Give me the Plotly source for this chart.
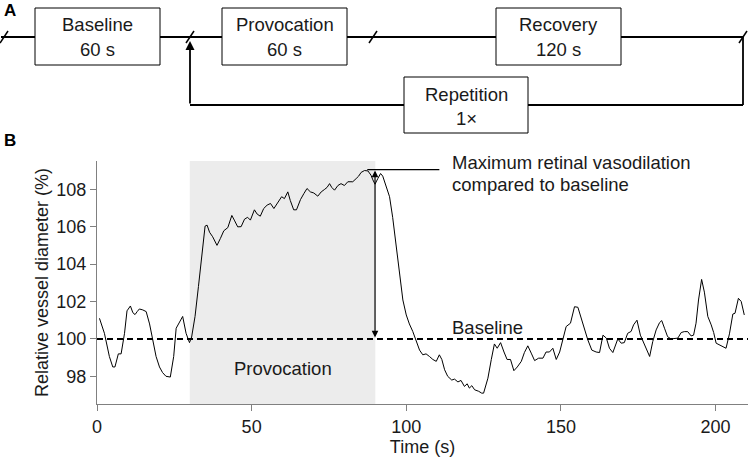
import plotly.graph_objects as go

# ---------------- data ----------------
time_s = [0.8, 2.4, 4.0, 5.1, 5.8, 6.9, 7.8, 8.9, 9.7, 10.8, 11.6, 12.3, 13.0, 13.7, 14.8, 15.9,
          17.0, 18.0, 19.1, 20.2, 21.2, 22.3, 23.7, 24.8, 25.6, 26.7, 27.7, 28.8, 29.9, 30.6,
          31.7, 32.8, 33.9, 34.95, 35.6, 36.4, 37.4, 38.8, 39.9, 41.0, 42.3, 43.6, 44.4, 45.5,
          46.6, 47.7, 48.7, 49.6, 50.9, 51.8, 52.8, 53.9, 55.0, 56.1, 57.2, 58.5, 59.7, 60.6,
          61.7, 62.5, 63.6, 64.5, 65.8, 66.9, 67.9, 69.0, 70.1, 71.4, 72.5, 73.5, 74.4, 75.2,
          75.9, 76.8, 77.9, 78.9, 80.0, 81.1, 82.7, 83.8, 84.6, 85.4, 86.5, 87.6, 88.6, 89.2,
          89.9, 90.8, 91.7, 92.4, 93.5, 94.6, 95.6, 96.7, 97.8, 98.9, 100.0, 101.0, 102.1,
          103.2, 104.3, 105.35, 106.4, 107.5, 108.6, 109.7, 110.7, 111.5, 112.4, 113.4, 114.7,
          115.6, 116.7, 117.7, 118.8, 119.7, 120.4, 121.2, 122.1, 123.4, 124.4, 125.0, 126.4,
          127.5, 128.5, 129.4, 130.5, 131.6, 132.6, 133.7, 134.8, 135.9, 137.2, 138.2, 139.3,
          140.4, 141.5, 142.8, 144.2, 145.2, 146.3, 147.4, 148.5, 149.6, 150.6, 151.7, 153.1,
          154.4, 155.5, 156.6, 157.6, 158.7, 160.0, 161.4, 162.5, 163.6, 164.7, 165.7, 166.8,
          167.6, 168.4, 169.5, 170.5, 171.6, 172.7, 173.5, 174.6, 175.7, 176.8, 177.9, 178.7,
          179.7, 180.8, 181.9, 182.6, 183.5, 184.5, 185.6, 186.7, 187.8, 188.9, 189.9, 191.0,
          192.1, 192.9, 193.7, 194.5, 195.5, 196.4, 197.5, 198.6, 199.4, 200.2, 201.3, 202.3,
          203.4, 204.5, 205.6, 206.3, 207.4, 208.3, 209.3]
diameter_pct = [101.1, 100.3, 99.06, 98.5, 98.5, 99.2, 99.2, 100.3, 101.5, 101.76, 101.4, 101.3,
                101.46, 101.6, 101.55, 101.46, 100.8, 100.04, 99.06, 98.5, 98.2, 98.0, 97.96,
                99.06, 100.57, 100.9, 101.2, 100.3, 99.8, 100.1, 101.2, 102.8, 104.4, 106.03,
                106.08, 105.7, 105.46, 105.0, 105.37, 105.78, 105.95, 106.6, 106.35, 105.99,
                106.0, 106.4, 106.5, 106.35, 106.9, 106.67, 106.56, 106.97, 107.15, 107.24,
                106.97, 107.3, 107.6, 107.5, 107.86, 107.4, 106.9, 106.9, 107.45, 107.77, 108.04,
                107.86, 107.8, 107.63, 107.86, 107.98, 108.1, 108.3, 108.1, 107.95, 108.2, 108.3,
                108.2, 108.4, 108.4, 108.57, 108.7, 108.9, 109.0, 108.98, 108.75, 108.5, 108.27,
                108.57, 108.84, 108.7, 108.2, 107.6, 106.5, 105.1, 103.7, 102.08, 101.28, 100.8,
                100.4, 99.95, 99.4, 99.15, 99.2, 99.06, 98.9, 98.8, 99.15, 98.9, 98.35, 98.0, 97.8,
                97.85, 97.7, 97.78, 97.46, 97.6, 97.37, 97.5, 97.28, 97.2, 97.1, 97.1, 97.9,
                98.9, 99.73, 99.5, 99.8, 99.3, 98.9, 98.9, 98.3, 98.5, 98.8, 99.27, 99.63, 99.24,
                98.84, 98.97, 98.97, 99.3, 99.3, 99.5, 98.9, 99.3, 99.95, 100.66, 100.84, 101.72,
                101.69, 101.1, 100.57, 99.95, 99.4, 99.3, 99.27, 100.2, 100.04, 99.5, 99.27,
                99.7, 100.0, 99.77, 99.8, 100.3, 100.4, 100.75, 101.0, 100.2, 99.77, 99.4, 99.06,
                99.86, 100.48, 100.87, 100.98, 100.57, 100.12, 100.0, 100.0, 100.04, 100.34,
                100.39, 100.39, 100.16, 100.2, 100.84, 102.08, 103.18, 102.5, 101.2, 100.75,
                100.34, 99.77, 99.68, 99.56, 99.5, 100.27, 101.33, 101.37, 102.17, 102.0, 101.28]

x_ticks = [0, 50, 100, 150, 200]
y_ticks = [98, 100, 102, 104, 106, 108]
provocation_window = [30, 90]
baseline_value = 100
peak_time = 89.9
peak_value = 109.0

protocol_boxes = [("Baseline", "60 s"), ("Provocation", "60 s"), ("Recovery", "120 s")]
repetition_box = ("Repetition", "1×")

# ---------------- layout helpers ----------------
W, H = 750, 458
ML, MR, MT, MB = 97, 2, 161, 54
PW, PH = W - ML - MR, H - MT - MB
FONT = "Liberation Sans, Arial, Helvetica, sans-serif"
TXT = "#1a1a1a"


def px(x):
    return (x - ML) / PW


def py(y):
    return (H - MB - y) / PH


def ptext(x, y, text, size=18.5, xanchor="center", color=TXT):
    annotations.append(dict(x=px(x), y=py(y), xref="paper", yref="paper", text=text,
                            showarrow=False, xanchor=xanchor, yanchor="middle",
                            font=dict(size=size, color=color)))


fig = go.Figure()
fig.add_trace(go.Scatter(x=time_s, y=diameter_pct, mode="lines",
                         line=dict(color="black", width=1), showlegend=False,
                         hoverinfo="x+y"))

shapes = []
annotations = []

# provocation shading
shapes.append(dict(type="rect", xref="x", yref="paper", x0=provocation_window[0],
                   x1=provocation_window[1], y0=0, y1=1, fillcolor="#ececec",
                   line=dict(width=0), layer="below"))
# baseline dashed line
shapes.append(dict(type="line", xref="paper", yref="y", x0=0, x1=1, y0=baseline_value,
                   y1=baseline_value, line=dict(color="black", width=2, dash="6px,4px"),
                   layer="above"))
# horizontal marker line at peak
shapes.append(dict(type="line", xref="x", yref="y", x0=87.4, x1=110.7, y0=109.05, y1=109.05,
                   line=dict(color="black", width=1.2)))
# double-headed arrow peak -> baseline
annotations.append(dict(x=peak_time, y=peak_value, xref="x", yref="y",
                        ax=peak_time, ay=baseline_value, axref="x", ayref="y",
                        showarrow=True, arrowhead=2, startarrowhead=2, arrowside="end+start",
                        arrowwidth=1.2, arrowsize=1.1, startarrowsize=1.1, arrowcolor="black",
                        standoff=0, startstandoff=0, text=""))
ptext(450, 162, "Maximum retinal vasodilation", xanchor="left")
ptext(450, 184, "compared to baseline", xanchor="left")
annotations.append(dict(x=114.0, y=100.62, xref="x", yref="y", text="Baseline",
                        showarrow=False, xanchor="left", yanchor="middle",
                        font=dict(size=18.5, color=TXT)))
annotations.append(dict(x=60, y=98.4, xref="x", yref="y", text="Provocation",
                        showarrow=False, xanchor="center", yanchor="middle",
                        font=dict(size=18.5, color=TXT)))

# ---------------- panel A (protocol diagram) ----------------
LINE_Y = 37
LOOP_Y = 105
LK = dict(color="black", width=1.8)


def pline(x0, y0, x1, y1, line=LK):
    shapes.append(dict(type="line", xref="paper", yref="paper", x0=px(x0), y0=py(y0),
                       x1=px(x1), y1=py(y1), line=line))


# main timeline and loop
pline(1, LINE_Y, 743, LINE_Y)
pline(743, LINE_Y, 743, LOOP_Y)
pline(743, LOOP_Y, 190, LOOP_Y)
# break marks
for bx in [4, 190, 373, 743]:
    pline(bx - 4, LINE_Y + 6, bx + 4, LINE_Y - 6, dict(color="black", width=1.5))

# boxes
box_pos = [(35, 160, 8, 65), (222, 347, 8, 65), (496, 621, 8, 65)]
for (lab1, lab2), (x0, x1, y0, y1) in zip(protocol_boxes, box_pos):
    shapes.append(dict(type="rect", xref="paper", yref="paper", x0=px(x0), x1=px(x1),
                       y0=py(y1), y1=py(y0), fillcolor="white",
                       line=dict(color="black", width=1)))
    cx = (x0 + x1) / 2
    ptext(cx, 24, lab1)
    ptext(cx, 50, lab2)

rx0, rx1, ry0, ry1 = 404, 528, 77, 133
shapes.append(dict(type="rect", xref="paper", yref="paper", x0=px(rx0), x1=px(rx1),
                   y0=py(ry1), y1=py(ry0), fillcolor="white",
                   line=dict(color="black", width=1)))
ptext((rx0 + rx1) / 2, 94, repetition_box[0])
ptext((rx0 + rx1) / 2, 119, repetition_box[1])

# upward arrow of the loop (tail offset given in pixels)
annotations.append(dict(x=px(190), y=py(41), xref="paper", yref="paper",
                        ax=0, ay=LOOP_Y - 41, axref="pixel", ayref="pixel",
                        showarrow=True, arrowhead=2, arrowsize=1, arrowwidth=1.8,
                        arrowcolor="black", standoff=0, text=""))

# panel letters
ptext(10, 11, "<b>A</b>", size=17, color="black")
ptext(10, 141, "<b>B</b>", size=17, color="black")

fig.update_layout(
    width=W, height=H,
    margin=dict(l=ML, r=MR, t=MT, b=MB, pad=0),
    plot_bgcolor="white", paper_bgcolor="white",
    font=dict(family=FONT, size=18, color=TXT),
    shapes=shapes, annotations=annotations,
    showlegend=False,
    xaxis=dict(range=[0, 210.5], tickvals=x_ticks, ticks="outside", ticklen=6,
               tickcolor="#808080", showline=True, linecolor="#808080", linewidth=1,
               showgrid=False, zeroline=False, automargin=False,
               title=dict(text="Time (s)", standoff=1, font=dict(size=18)),
               tickfont=dict(size=18)),
    yaxis=dict(range=[96.52, 109.51], tickvals=y_ticks, ticks="outside", ticklen=6,
               tickcolor="#808080", showline=True, linecolor="#808080", linewidth=1,
               showgrid=False, zeroline=False, automargin=False,
               title=dict(text="Relative vessel diameter (%)", standoff=3,
                          font=dict(size=18)),
               tickfont=dict(size=18)),
)

fig.write_html("out.html", config={"displayModeBar": False},
               post_script="document.body.style.margin='0';"
                           "document.body.style.overflow='hidden';")
